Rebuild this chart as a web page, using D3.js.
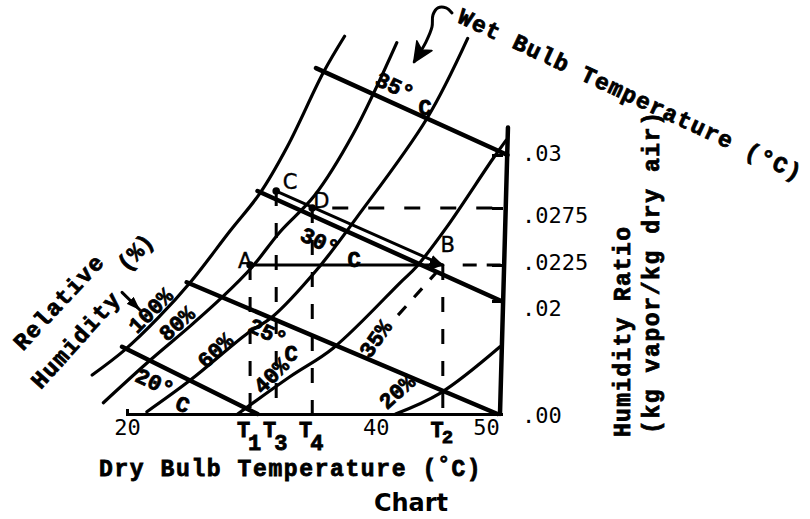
<!DOCTYPE html>
<html>
<head>
<meta charset="utf-8">
<script src="https://cdn.jsdelivr.net/npm/d3@7"></script>
<style>
  body { margin: 0; background: #fff; }
  svg { display: block; }
  .tw { font-family: "Liberation Mono", "DejaVu Sans Mono", monospace; font-weight: bold; fill: #000; stroke: #000; stroke-width: 0.8px; }
  .num { font-family: "DejaVu Sans Mono", monospace; fill: #000; }
  .pt { font-family: "DejaVu Sans", sans-serif; fill: #000; stroke: #000; stroke-width: 0.4px; }
</style>
</head>
<body>
<svg id="chart" width="810" height="519"></svg>
<script>
// ---- axis values ----------------------------------------------------------
const dryBulbTicks = [20, 40, 50];                       // °C
const humidityTicks = [0, 0.02, 0.0225, 0.0275, 0.03];   // kg vapor / kg dry air
const humidityTickLabels = [".00", ".02", ".0225", ".0275", ".03"];

// ---- relative humidity curves: [dry bulb °C, humidity ratio] ---------------
const rh100 = [[17.2,0.0069],[19.8,0.0113],[22.5,0.0170],[25.1,0.0213],[28.3,0.0255],[30.7,0.0282],[32.9,0.0304],[35.8,0.0339],[37.5,0.0356]];
const rh80  = [[18.1,0.0020],[21.9,0.0096],[25.1,0.0156],[27.7,0.0203],[30.1,0.0224],[32.3,0.0254],[35.1,0.0281],[38.2,0.0310],[41.7,0.0353]];
const rh60  = [[21.6,0.0004],[25.1,0.0060],[29.7,0.0143],[31.7,0.0172],[35.3,0.0222],[38.5,0.0267],[44.1,0.0317],[47.4,0.0355]];
const rh40  = [[28.9,0],[33.1,0.0066],[36.6,0.0117],[42.0,0.0213],[43.3,0.0224],[45.7,0.0258],[49.4,0.0298],[50.5,0.0307]];
const rh20  = [[41.6,0],[45.2,0.0037],[50.0,0.0119]];
const rh35  = [[41.8,0.0175],[44.9,0.0220]];            // partial, dashed
const rhNames = ["100%", "80%", "60%", "40%", "35%", "20%"];

// ---- wet bulb lines (°C), from the saturation curve to the chart edge -------
const wetBulbNames = ["20", "25", "30", "35"];
const wetBulbLines = [
  [[19.6,0.0119],[30.5,0]],
  [[24.8,0.0213],[49.8,0]],
  [[30.5,0.0283],[50.1,0.0200]],
  [[35.2,0.0341],[50.6,0.0300]]
];

// ---- process states --------------------------------------------------------
const stateNames = ["A", "B", "C", "D"];
const stateT     = [29.9, 45.4, 32.0, 34.9];
const stateW     = [0.0225, 0.0225, 0.0283, 0.0275];
const stateTicks = ["1", "2", "3", "4"];                 // subscripts of T at each state

// right-hand edge of the chart (slightly leaning)
const chartEdge = [[50, 0], [50.64, 0.0313]];

// ---- scales ----------------------------------------------------------------
const svg = d3.select("#chart");
const x = d3.scaleLinear().domain([20, 50]).range([127, 500]);
const y = d3.scaleLinear().domain(humidityTicks).range([414, 301, 265, 208, 155]);

const smooth = d3.line().x(d => x(d[0])).y(d => y(d[1])).curve(d3.curveCatmullRom.alpha(0.5));
const straight = d3.line().x(d => x(d[0])).y(d => y(d[1]));

const defs = svg.append("defs");
defs.append("marker").attr("id", "tip")
  .attr("viewBox", "0 0 14 10").attr("refX", 13).attr("refY", 5)
  .attr("markerWidth", 14).attr("markerHeight", 10)
  .attr("markerUnits", "userSpaceOnUse").attr("orient", "auto")
  .append("path").attr("d", "M0,0L14,5L0,10z").attr("fill", "#000");
defs.append("marker").attr("id", "bigtip")
  .attr("viewBox", "0 0 22 20").attr("refX", 20).attr("refY", 10)
  .attr("markerWidth", 22).attr("markerHeight", 20)
  .attr("markerUnits", "userSpaceOnUse").attr("orient", "auto")
  .append("path").attr("d", "M1,1L21,10L1,19L6,10z").attr("fill", "#000")
  .attr("stroke", "#000").attr("stroke-width", 1.5).attr("stroke-linejoin", "round");

const ink = svg.append("g").attr("fill", "none").attr("stroke", "#000")
  .attr("stroke-linecap", "round").attr("stroke-linejoin", "round");

// relative humidity curves
[rh100, rh80, rh60, rh40, rh20].forEach(c => {
  ink.append("path").attr("d", smooth(c)).attr("stroke-width", 3.2);
});
ink.append("path").attr("d", straight(rh35)).attr("stroke-width", 3.2)
  .attr("stroke-dasharray", "12,12").attr("stroke-linecap", "butt");

// wet bulb lines
wetBulbLines.forEach(l => {
  ink.append("path").attr("d", straight(l)).attr("stroke-width", 4.5);
});

// dashed guides from the states
const st = i => [stateT[i], stateW[i]];
stateNames.forEach((n, i) => {
  ink.append("path").attr("d", straight([st(i), [stateT[i], 0]]))
    .attr("stroke-width", 3).attr("stroke-dasharray", "15,17").attr("stroke-linecap", "butt");
});
ink.append("path").attr("d", straight([st(3), [50.55, stateW[3]]]))
  .attr("stroke-width", 3).attr("stroke-dasharray", "16,20").attr("stroke-dashoffset", 16)
  .attr("stroke-linecap", "butt");
ink.append("path").attr("d", straight([[stateT[1] + 1.6, stateW[1]], [50.45, stateW[1]]]))
  .attr("stroke-width", 3).attr("stroke-dasharray", "14,10").attr("stroke-linecap", "butt");

// processes A -> B and C -> B
ink.append("path").attr("d", straight([st(0), st(1)])).attr("stroke-width", 3).attr("marker-end", "url(#tip)");
ink.append("path").attr("d", straight([st(2), st(1)])).attr("stroke-width", 3).attr("marker-end", "url(#tip)");

// right edge of the chart
ink.append("path").attr("d", straight(chartEdge)).attr("stroke-width", 4.5);

// state dots
svg.append("g").selectAll("circle").data([0, 2, 3]).join("circle")
  .attr("cx", i => x(stateT[i])).attr("cy", i => y(stateW[i])).attr("r", 3.8).attr("fill", "#000");

// ---- axes ------------------------------------------------------------------
const xAxis = d3.axisBottom(x).tickValues(dryBulbTicks).tickSizeInner(0).tickSizeOuter(-5).tickPadding(8);
const gx = svg.append("g").attr("transform", `translate(0,${y(0)})`).call(xAxis);
gx.select(".domain").attr("stroke-width", 3);
gx.selectAll("text").attr("class", "num").attr("font-size", 22)
  .attr("dx", d => d === 50 ? -14 : 0).attr("dy", "0.6em");

const tickNudge = [1, 7, -3, 7, -2];
const yAxis = d3.axisRight(y).tickValues(humidityTicks)
  .tickFormat((d, i) => humidityTickLabels[i]).tickSizeInner(-11).tickSizeOuter(0).tickPadding(19);
const gy = svg.append("g").attr("transform", `translate(${x(50) + 3},0)`).call(yAxis);
gy.select(".domain").remove();
gy.selectAll(".tick line").attr("stroke-width", 3);
gy.selectAll("text").attr("class", "num").attr("font-size", 22)
  .attr("y", (d, i) => tickNudge[i]);

// T subscripts under the dry bulb axis
const tl = svg.append("g").attr("class", "tw").attr("font-size", 22).attr("text-anchor", "middle");
stateNames.forEach((n, i) => {
  const t = tl.append("text").attr("x", x(stateT[i]) - 1).attr("y", y(0) + 23);
  t.append("tspan").text("T");
  t.append("tspan").attr("dy", i === 1 ? 6 : 13).attr("dx", -2)
    .attr("font-size", i === 1 ? 19 : 22).text(stateTicks[i]);
});

// ---- labels ----------------------------------------------------------------
// relative humidity labels: position [T, W] and angle
const rhLabelPos = [[22.0,0.01805,-45],[24.1,0.01575,-42],[27.2,0.01097,-43],[31.7,0.00655,-45],[40.1,0.0131,-55],[41.8,0.00372,-42]];
svg.append("g").attr("class", "tw").attr("font-size", 22).attr("text-anchor", "middle")
  .selectAll("text").data(rhNames).join("text")
  .attr("transform", (d, i) => `translate(${x(rhLabelPos[i][0])},${y(rhLabelPos[i][1])}) rotate(${rhLabelPos[i][2]})`)
  .attr("dy", "0.25em").text(d => d);

// wet bulb labels: number with degree, and the C below
const wbNumPos = [[22.25,0.00566],[31.34,0.01451],[35.52,0.0246],[41.56,0.03326]];
const wbCPos   = [[24.5,0.00177],[33.19,0.0108],[38.26,0.02303],[43.97,0.03227]];
const wbl = svg.append("g").attr("class", "tw").attr("font-size", 22).attr("text-anchor", "middle");
wetBulbNames.forEach((n, i) => {
  wbl.append("text").attr("transform", `translate(${x(wbNumPos[i][0])},${y(wbNumPos[i][1])}) rotate(25)`)
    .attr("dy", "0.35em").text(n + "°");
  wbl.append("text").attr("transform", `translate(${x(wbCPos[i][0])},${y(wbCPos[i][1])}) rotate(${i === 0 ? 20 : 0})`)
    .attr("dy", "0.35em").text("C");
});

// state letters
const stateOffset = [[-5, -4], [5, -20], [14, -9], [9, -7]];
svg.append("g").attr("class", "pt").attr("font-size", 21).attr("text-anchor", "middle")
  .selectAll("text").data(stateNames).join("text")
  .attr("x", (d, i) => x(stateT[i]) + stateOffset[i][0])
  .attr("y", (d, i) => y(stateW[i]) + stateOffset[i][1])
  .attr("dy", "0.35em").text(d => d);

// axis titles
svg.append("text").attr("class", "tw").attr("font-size", 23).attr("letter-spacing", 1.6)
  .attr("x", 99).attr("y", 476)
  .call(t => {
    t.append("tspan").text("Dry Bulb Temperature (");
    t.append("tspan").attr("dy", -6).attr("font-size", 20).text("°");
    t.append("tspan").attr("dy", 6).text("C)");
  });

svg.append("text").attr("class", "tw").attr("font-size", 23)
  .attr("transform", "translate(630,437) rotate(-90)")
  .attr("textLength", 210).attr("lengthAdjust", "spacing").text("Humidity Ratio");
svg.append("text").attr("class", "tw").attr("font-size", 23)
  .attr("transform", "translate(659,434) rotate(-90)")
  .attr("textLength", 322).attr("lengthAdjust", "spacing").text("(kg vapor/kg dry air)");

svg.append("text").attr("class", "tw").attr("font-size", 23).attr("text-anchor", "middle")
  .attr("transform", "translate(630,94) rotate(25)").attr("dy", "0.35em")
  .attr("textLength", 376).attr("lengthAdjust", "spacing").text("Wet Bulb Temperature (°C)");

// relative humidity title
const rhTitle = svg.append("g").attr("class", "tw").attr("font-size", 23).attr("text-anchor", "middle");
rhTitle.append("text").attr("transform", "translate(58,302) rotate(-47)").attr("dy", "0.35em")
  .attr("textLength", 120).attr("lengthAdjust", "spacing").text("Relative");
rhTitle.append("text").attr("transform", "translate(75,340) rotate(-48)").attr("dy", "0.35em")
  .attr("textLength", 120).attr("lengthAdjust", "spacing").text("Humidity");
rhTitle.append("text").attr("transform", "translate(135,252) rotate(-47)").attr("dy", "0.35em").text("(%)");

// pointer arrows
const rhPointer = [[19.6,0.0206],[21.0,0.0185]];
ink.append("path").attr("d", straight(rhPointer)).attr("stroke-width", 3).attr("marker-end", "url(#tip)");
const wbPointer = [[46.14,0.0367],[45.66,0.03694],[45.01,0.03694],[44.61,0.03661],[44.53,0.03604],[44.05,0.03534],[43.1,0.0344]];
ink.append("path").attr("d", smooth(wbPointer)).attr("stroke-width", 3).attr("marker-end", "url(#bigtip)");

// caption
svg.append("text").attr("x", 411).attr("y", 511).attr("text-anchor", "middle")
  .attr("font-family", "'DejaVu Sans', Verdana, sans-serif").attr("font-weight", "bold")
  .attr("font-size", 24).text("Chart");
</script>
</body>
</html>
